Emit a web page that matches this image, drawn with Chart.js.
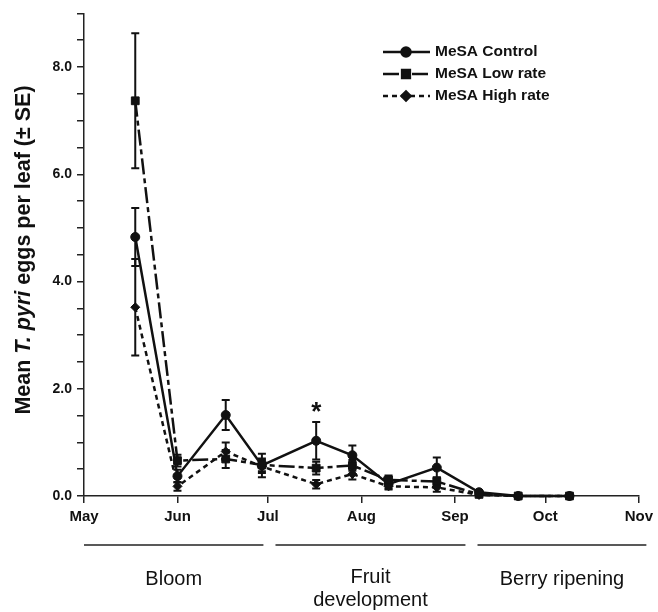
<!DOCTYPE html>
<html>
<head>
<meta charset="utf-8">
<script src="https://cdn.jsdelivr.net/npm/chart.js@4"></script>
<style>
  html, body { margin: 0; padding: 0; background: #fff; }
  #wrap { width: 658px; height: 612px; }
</style>
</head>
<body>
<div id="wrap"><canvas id="eggs_chart" width="658" height="612"></canvas></div>
<script>
// days counted from 1 May
const monthDays = [0, 31, 61, 92, 123, 153, 184];
const monthLabels = ['May', 'Jun', 'Jul', 'Aug', 'Sep', 'Oct', 'Nov'];
const sampleDays = [17, 31, 47, 59, 77, 89, 101, 117, 131, 144, 161];

const controlMean = [4.83, 0.37, 1.51, 0.57, 1.03, 0.76, 0.22, 0.53, 0.07, 0, 0];
const controlSE   = [0.54, 0.12, 0.28, 0.22, 0.35, 0.18, 0.08, 0.19, 0.04, 0, 0];
const lowMean     = [7.37, 0.66, 0.69, 0.58, 0.52, 0.57, 0.30, 0.27, 0.03, 0, 0];
const lowSE       = [1.26, 0.11, 0.17, 0.12, 0.12, 0.10, 0.08, 0.08, 0.02, 0, 0];
const highMean    = [3.52, 0.18, 0.83, 0.55, 0.22, 0.41, 0.18, 0.16, 0.02, 0, 0];
const highSE      = [0.90, 0.08, 0.17, 0.12, 0.08, 0.10, 0.06, 0.08, 0.01, 0, 0];

const seriesNames = ['MeSA Control', 'MeSA Low rate', 'MeSA High rate'];
const significantIndex = 4; // asterisk over control

const phaseNames = [['Bloom'], ['Fruit', 'development'], ['Berry ripening']];
const phaseStart = [0, 63.5, 130.5];
const phaseEnd = [59.5, 126.5, 186.5];

const FONT = "Arial, 'Liberation Sans', sans-serif";

function toPoints(means) {
    return sampleDays.map((d, i) => ({ x: d, y: means[i] }));
}

const errors = [controlSE, lowSE, highSE];

const extras = {
    id: 'extras',
    beforeDatasetsDraw(chart) {
        const ctx = chart.ctx;
        const xs = chart.scales.x, ys = chart.scales.y;
        ctx.save();
        ctx.strokeStyle = '#111';
        ctx.lineWidth = 2;
        ctx.setLineDash([]);
        chart.data.datasets.forEach((ds, di) => {
            ds.data.forEach((p, i) => {
                const se = errors[di][i];
                if (!se) return;
                const px = xs.getPixelForValue(p.x);
                const top = ys.getPixelForValue(p.y + se);
                const bot = ys.getPixelForValue(Math.max(0, p.y - se));
                ctx.beginPath();
                ctx.moveTo(px, top); ctx.lineTo(px, bot);
                ctx.moveTo(px - 4, top); ctx.lineTo(px + 4, top);
                ctx.moveTo(px - 4, bot); ctx.lineTo(px + 4, bot);
                ctx.stroke();
            });
        });
        ctx.restore();
    },
    afterDraw(chart) {
        const ctx = chart.ctx;
        const xs = chart.scales.x, ys = chart.scales.y;
        ctx.save();

        // asterisk
        const ax = xs.getPixelForValue(sampleDays[significantIndex]);
        const ay = ys.getPixelForValue(controlMean[significantIndex] + controlSE[significantIndex]);
        ctx.fillStyle = '#111';
        ctx.font = 'bold 26px ' + FONT;
        ctx.textAlign = 'center';
        ctx.textBaseline = 'middle';
        ctx.fillText('*', ax, ay - 9);

        // legend
        const rowY = [52, 74, 96];
        chart.data.datasets.forEach((ds, i) => {
            const y = rowY[i];
            ctx.strokeStyle = '#111';
            ctx.lineWidth = 2.5;
            ctx.setLineDash(ds.borderDash || []);
            ctx.beginPath();
            ctx.moveTo(383, y); ctx.lineTo(430, y);
            ctx.stroke();
            ctx.setLineDash([]);
            Chart.helpers.drawPoint(ctx, {
                pointStyle: ds.pointStyle, radius: ds.pointRadius, borderWidth: 1
            }, 406, y);
            ctx.fillStyle = '#111';
            ctx.font = 'bold 15.5px ' + FONT;
            ctx.textAlign = 'left';
            ctx.textBaseline = 'middle';
            ctx.fillText(seriesNames[i], 435, y);
        });

        // y axis title with italic species name
        const parts = [
            ['Mean ', 'bold 21.5px '],
            ['T. pyri', 'italic bold 21.5px '],
            [' eggs per leaf (\u00b1 SE)', 'bold 21.5px ']
        ];
        let total = 0;
        parts.forEach(p => { ctx.font = p[1] + FONT; total += ctx.measureText(p[0]).width; });
        ctx.translate(24, 250);
        ctx.rotate(-Math.PI / 2);
        ctx.textAlign = 'left';
        ctx.textBaseline = 'middle';
        let cx = -total / 2;
        parts.forEach(p => {
            ctx.font = p[1] + FONT;
            ctx.fillText(p[0], cx, 0);
            cx += ctx.measureText(p[0]).width;
        });
        ctx.setTransform(1, 0, 0, 1, 0, 0);

        // phase bars
        ctx.strokeStyle = '#222';
        ctx.lineWidth = 1.5;
        ctx.font = '20px ' + FONT;
        ctx.textAlign = 'center';
        ctx.textBaseline = 'middle';
        phaseNames.forEach((lines, i) => {
            const x0 = xs.getPixelForValue(phaseStart[i]);
            const x1 = xs.getPixelForValue(phaseEnd[i]);
            ctx.beginPath();
            ctx.moveTo(x0, 545); ctx.lineTo(x1, 545);
            ctx.stroke();
            const mid = (x0 + x1) / 2;
            if (lines.length === 1) {
                ctx.fillText(lines[0], mid, 579);
            } else {
                ctx.fillText(lines[0], mid, 577);
                ctx.fillText(lines[1], mid, 600);
            }
        });
        ctx.restore();
    }
};

const commonSet = {
    borderColor: '#111',
    backgroundColor: '#111',
    pointBackgroundColor: '#111',
    pointBorderColor: '#111',
    borderWidth: 2.5,
    pointBorderWidth: 1,
    tension: 0,
    clip: false
};

new Chart(document.getElementById('eggs_chart'), {
    type: 'line',
    data: {
        datasets: [
            Object.assign({}, commonSet, {
                label: seriesNames[0], data: toPoints(controlMean),
                pointStyle: 'circle', pointRadius: 4.5, order: 1
            }),
            Object.assign({}, commonSet, {
                label: seriesNames[1], data: toPoints(lowMean),
                borderDash: [16, 4, 5, 4],
                pointStyle: 'rect', pointRadius: 5.5, order: 0
            }),
            Object.assign({}, commonSet, {
                label: seriesNames[2], data: toPoints(highMean),
                borderDash: [5, 4],
                pointStyle: 'rectRot', pointRadius: 4.5, order: 2
            })
        ]
    },
    options: {
        responsive: false,
        animation: false,
        layout: { padding: { top: 11, right: 17, left: 0, bottom: 0 } },
        plugins: { legend: { display: false }, tooltip: { enabled: false } },
        scales: {
            x: {
                type: 'linear',
                min: 0, max: 184,
                afterBuildTicks: (s) => { s.ticks = monthDays.map(v => ({ value: v })); },
                afterFit: (s) => { s.height = 116; },
                ticks: {
                    autoSkip: false,
                    maxRotation: 0,
                    padding: 5,
                    color: '#111',
                    font: { family: FONT, size: 15, weight: 'bold' },
                    callback: (v) => monthLabels[monthDays.indexOf(v)]
                },
                grid: { drawOnChartArea: false, tickLength: 7, color: '#222', lineWidth: 1.5 },
                border: { color: '#222', width: 1.5 }
            },
            y: {
                min: 0, max: 9,
                afterFit: (s) => { s.width = 84; },
                ticks: {
                    stepSize: 0.5,
                    padding: 5,
                    color: '#111',
                    font: { family: FONT, size: 14, weight: 'bold' },
                    callback: (v) => (v % 2 === 0 && v < 9) ? v.toFixed(1) : ''
                },
                grid: { drawOnChartArea: false, tickLength: 7, color: '#222', lineWidth: 1.5 },
                border: { color: '#222', width: 1.5 }
            }
        }
    },
    plugins: [extras]
});
</script>
</body>
</html>
